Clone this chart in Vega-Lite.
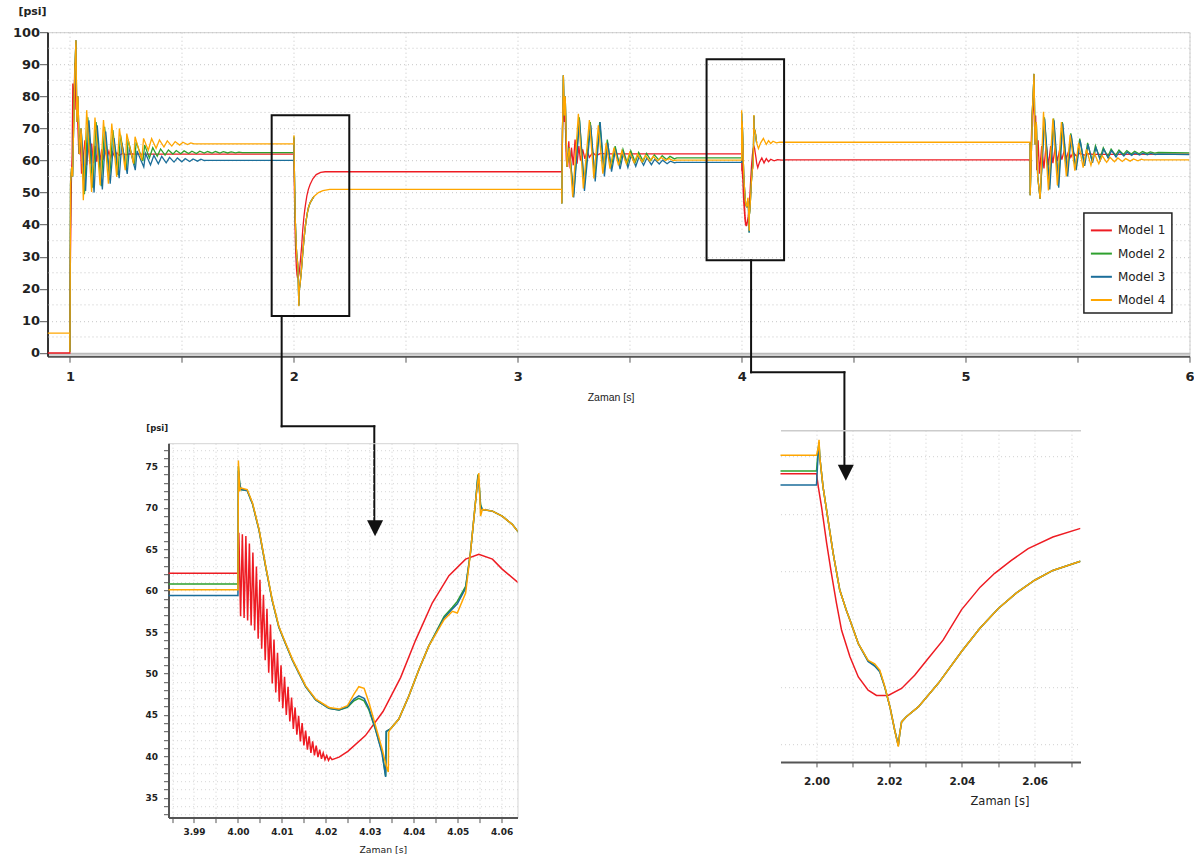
{
"$schema": "https://vega.github.io/schema/vega-lite/v6.json",
"background": "white",
"padding": {"left": 11.5, "top": 5.2, "right": 2, "bottom": 2},
"config": {
  "view": {"stroke": null},
  "font": "DejaVu Sans",
  "axis": {"labelFont": "DejaVu Sans", "titleFont": "DejaVu Sans", "labelColor": "#222", "titleColor": "#222", "titleFontWeight": "normal", "labelFontWeight": "bold", "domainColor": "#555", "tickColor": "#555", "gridColor": "#c6c6c6", "gridDash": [1, 3], "labelOverlap": false},
  "legend": {"strokeWidth": 1.5, "labelFont": "DejaVu Sans"}
},
"resolve": {"scale": {"color": "independent"}},
"bounds": "flush",
"spacing": 74,
"datasets": {"signals": [
{"m":1,"t":0.9,"p":0},{"m":1,"t":1.0,"p":0},{"m":1,"t":1.0005,"p":10.5},{"m":1,"t":1.002,"p":27},{"m":1,"t":1.004,"p":38},{"m":1,"t":1.007,"p":55},{"m":1,"t":1.01,"p":62},{"m":1,"t":1.013,"p":84},{"m":1,"t":1.018,"p":76},{"m":1,"t":1.022,"p":90.5},{"m":1,"t":1.027,"p":76},{"m":1,"t":1.033,"p":75.7},{"m":1,"t":1.04,"p":62},{"m":1,"t":1.046,"p":68},{"m":1,"t":1.052,"p":55.9},{"m":1,"t":1.06,"p":61},{"m":1,"t":1.067,"p":66.3},{"m":1,"t":1.075,"p":58.5},{"m":1,"t":1.082,"p":65.5},{"m":1,"t":1.09,"p":59},{"m":1,"t":1.097,"p":65.3},{"m":1,"t":1.105,"p":59.2},{"m":1,"t":1.112,"p":64.5},{"m":1,"t":1.12,"p":59.6},{"m":1,"t":1.127,"p":64},{"m":1,"t":1.135,"p":60},{"m":1,"t":1.142,"p":63.5},{"m":1,"t":1.15,"p":60.3},{"m":1,"t":1.158,"p":63.2},{"m":1,"t":1.166,"p":60.6},{"m":1,"t":1.174,"p":62.9},{"m":1,"t":1.182,"p":61},{"m":1,"t":1.19,"p":62.6},{"m":1,"t":1.2,"p":61.3},{"m":1,"t":1.21,"p":62.4},{"m":1,"t":1.22,"p":61.6},{"m":1,"t":1.235,"p":62.2},{"m":1,"t":1.25,"p":61.8},{"m":1,"t":1.27,"p":62.1},{"m":1,"t":1.29,"p":62},{"m":1,"t":1.985,"p":62},{"m":1,"t":2.0,"p":62},
{"m":1,"t":2.0005,"p":59.7},{"m":1,"t":2.0014,"p":56.2},{"m":1,"t":2.0028,"p":49.9},{"m":1,"t":2.0041,"p":44.7},{"m":1,"t":2.0055,"p":39.5},{"m":1,"t":2.0069,"p":34.8},{"m":1,"t":2.0092,"p":30.2},{"m":1,"t":2.0115,"p":26.7},{"m":1,"t":2.0142,"p":24.4},{"m":1,"t":2.0165,"p":23.5},{"m":1,"t":2.0197,"p":23.5},{"m":1,"t":2.0234,"p":24.7},{"m":1,"t":2.027,"p":27},{"m":1,"t":2.0307,"p":29.9},{"m":1,"t":2.0348,"p":33.1},{"m":1,"t":2.0399,"p":38.4},{"m":1,"t":2.045,"p":42.3},{"m":1,"t":2.049,"p":44.7},{"m":1,"t":2.0535,"p":46.9},{"m":1,"t":2.0582,"p":49},{"m":1,"t":2.065,"p":51},{"m":1,"t":2.0726,"p":52.5},{"m":1,"t":2.085,"p":54.3},{"m":1,"t":2.1,"p":55.6},{"m":1,"t":2.12,"p":56.3},{"m":1,"t":2.14,"p":56.5},{"m":1,"t":3.1966,"p":56.5},
{"m":1,"t":3.1975,"p":57},{"m":1,"t":3.2,"p":70},{"m":1,"t":3.2037,"p":78.3},{"m":1,"t":3.208,"p":72},{"m":1,"t":3.211,"p":76},{"m":1,"t":3.217,"p":60},{"m":1,"t":3.223,"p":58},{"m":1,"t":3.228,"p":66},{"m":1,"t":3.234,"p":57.5},{"m":1,"t":3.24,"p":64},{"m":1,"t":3.248,"p":58.5},{"m":1,"t":3.256,"p":66.5},{"m":1,"t":3.265,"p":59},{"m":1,"t":3.273,"p":64.5},{"m":1,"t":3.28,"p":60},{"m":1,"t":3.29,"p":63.5},{"m":1,"t":3.3,"p":60.5},{"m":1,"t":3.31,"p":63},{"m":1,"t":3.32,"p":61},{"m":1,"t":3.335,"p":62.5},{"m":1,"t":3.35,"p":61.5},{"m":1,"t":3.37,"p":62.2},{"m":1,"t":3.39,"p":62.1},{"m":1,"t":3.98,"p":62.1},{"m":1,"t":4.0,"p":62.1},
{"m":1,"t":4.0002,"p":67},{"m":1,"t":4.0006,"p":56.9},{"m":1,"t":4.001,"p":66.8},{"m":1,"t":4.0014,"p":56.7},{"m":1,"t":4.0018,"p":66.6},{"m":1,"t":4.0022,"p":56.4},{"m":1,"t":4.0026,"p":65.7},{"m":1,"t":4.003,"p":55.8},{"m":1,"t":4.0034,"p":64.6},{"m":1,"t":4.0038,"p":55.2},{"m":1,"t":4.0042,"p":62.9},{"m":1,"t":4.0046,"p":54.2},{"m":1,"t":4.005,"p":61.3},{"m":1,"t":4.0054,"p":53},{"m":1,"t":4.0058,"p":59.5},{"m":1,"t":4.0062,"p":51.6},{"m":1,"t":4.0066,"p":57.8},{"m":1,"t":4.007,"p":50.1},{"m":1,"t":4.0074,"p":55.9},{"m":1,"t":4.0078,"p":48.8},{"m":1,"t":4.0082,"p":54.1},{"m":1,"t":4.0086,"p":47.7},{"m":1,"t":4.009,"p":52.5},{"m":1,"t":4.0094,"p":46.6},{"m":1,"t":4.0098,"p":51},{"m":1,"t":4.0102,"p":45.8},{"m":1,"t":4.0106,"p":49.6},{"m":1,"t":4.011,"p":45},{"m":1,"t":4.0114,"p":48.4},{"m":1,"t":4.0118,"p":44.2},{"m":1,"t":4.0122,"p":47.1},{"m":1,"t":4.0126,"p":43.3},{"m":1,"t":4.013,"p":45.9},{"m":1,"t":4.0134,"p":42.6},{"m":1,"t":4.0138,"p":44.9},{"m":1,"t":4.0142,"p":41.8},{"m":1,"t":4.0146,"p":44},{"m":1,"t":4.015,"p":41.3},{"m":1,"t":4.0154,"p":43.1},{"m":1,"t":4.0158,"p":40.8},{"m":1,"t":4.0162,"p":42.4},{"m":1,"t":4.0166,"p":40.4},{"m":1,"t":4.017,"p":41.8},{"m":1,"t":4.0174,"p":40.1},{"m":1,"t":4.0178,"p":41.3},{"m":1,"t":4.0182,"p":39.9},{"m":1,"t":4.0186,"p":40.8},{"m":1,"t":4.019,"p":39.7},{"m":1,"t":4.0194,"p":40.4},{"m":1,"t":4.0198,"p":39.6},{"m":1,"t":4.0202,"p":40.1},{"m":1,"t":4.0206,"p":39.5},{"m":1,"t":4.021,"p":39.9},{"m":1,"t":4.0214,"p":39.6},
{"m":1,"t":4.023,"p":39.9},{"m":1,"t":4.025,"p":40.6},{"m":1,"t":4.029,"p":42.5},{"m":1,"t":4.033,"p":45.4},{"m":1,"t":4.037,"p":49.5},{"m":1,"t":4.0404,"p":54},{"m":1,"t":4.0442,"p":58.5},{"m":1,"t":4.048,"p":61.8},{"m":1,"t":4.0518,"p":63.8},{"m":1,"t":4.0548,"p":64.4},{"m":1,"t":4.0579,"p":63.8},{"m":1,"t":4.0601,"p":62.6},{"m":1,"t":4.0639,"p":60.9},{"m":1,"t":4.067,"p":59.2},{"m":1,"t":4.072,"p":57.8},{"m":1,"t":4.08,"p":59.5},{"m":1,"t":4.09,"p":60.8},{"m":1,"t":4.1,"p":59.2},{"m":1,"t":4.11,"p":60.6},{"m":1,"t":4.12,"p":59.6},{"m":1,"t":4.13,"p":60.4},{"m":1,"t":4.145,"p":59.9},{"m":1,"t":4.16,"p":60.3},{"m":1,"t":4.18,"p":60.1},{"m":1,"t":4.2,"p":60.2},{"m":1,"t":5.288,"p":60.2},
{"m":1,"t":5.289,"p":55},{"m":1,"t":5.295,"p":70},{"m":1,"t":5.303,"p":80.4},{"m":1,"t":5.308,"p":70.5},{"m":1,"t":5.313,"p":74},{"m":1,"t":5.318,"p":57},{"m":1,"t":5.324,"p":66.3},{"m":1,"t":5.33,"p":55.9},{"m":1,"t":5.34,"p":64.5},{"m":1,"t":5.35,"p":57.5},{"m":1,"t":5.36,"p":65},{"m":1,"t":5.37,"p":58.5},{"m":1,"t":5.38,"p":64.5},{"m":1,"t":5.39,"p":59.2},{"m":1,"t":5.4,"p":64},{"m":1,"t":5.41,"p":59.8},{"m":1,"t":5.42,"p":63.3},{"m":1,"t":5.43,"p":60.3},{"m":1,"t":5.44,"p":63},{"m":1,"t":5.45,"p":60.7},{"m":1,"t":5.46,"p":62.8},{"m":1,"t":5.47,"p":61},{"m":1,"t":5.48,"p":62.5},{"m":1,"t":5.495,"p":61.4},{"m":1,"t":5.51,"p":62.3},{"m":1,"t":5.53,"p":61.7},{"m":1,"t":5.55,"p":62.1},{"m":1,"t":5.57,"p":61.9},{"m":1,"t":6.0,"p":62},

{"m":2,"t":1.0,"p":0.3},{"m":2,"t":1.003,"p":53},{"m":2,"t":1.008,"p":58},{"m":2,"t":1.012,"p":55},{"m":2,"t":1.018,"p":75},{"m":2,"t":1.022,"p":88},{"m":2,"t":1.027,"p":97.5},{"m":2,"t":1.031,"p":72},{"m":2,"t":1.036,"p":80},{"m":2,"t":1.042,"p":62},{"m":2,"t":1.05,"p":70},{"m":2,"t":1.065,"p":49.5},{"m":2,"t":1.08,"p":73.5},{"m":2,"t":1.102,"p":51.5},{"m":2,"t":1.117,"p":72},{"m":2,"t":1.14,"p":52},{"m":2,"t":1.155,"p":70.5},{"m":2,"t":1.177,"p":54},{"m":2,"t":1.192,"p":69.5},{"m":2,"t":1.214,"p":55.5},{"m":2,"t":1.226,"p":68},{"m":2,"t":1.252,"p":57},{"m":2,"t":1.26,"p":66.5},{"m":2,"t":1.288,"p":58.5},{"m":2,"t":1.296,"p":65.8},{"m":2,"t":1.326,"p":59.8},{"m":2,"t":1.334,"p":64.8},{"m":2,"t":1.355,"p":60.8},{"m":2,"t":1.37,"p":64},{"m":2,"t":1.39,"p":61.3},{"m":2,"t":1.405,"p":63.6},{"m":2,"t":1.425,"p":61.7},{"m":2,"t":1.44,"p":63.3},{"m":2,"t":1.46,"p":62},{"m":2,"t":1.475,"p":63.1},{"m":2,"t":1.495,"p":62.1},{"m":2,"t":1.51,"p":63},{"m":2,"t":1.53,"p":62.2},{"m":2,"t":1.545,"p":62.9},{"m":2,"t":1.565,"p":62.2},{"m":2,"t":1.58,"p":62.9},{"m":2,"t":1.6,"p":62.3},{"m":2,"t":1.615,"p":62.8},{"m":2,"t":1.635,"p":62.3},{"m":2,"t":1.65,"p":62.8},{"m":2,"t":1.67,"p":62.3},{"m":2,"t":1.685,"p":62.75},{"m":2,"t":1.705,"p":62.35},{"m":2,"t":1.72,"p":62.7},{"m":2,"t":1.74,"p":62.4},{"m":2,"t":1.755,"p":62.6},{"m":2,"t":1.77,"p":62.45},{"m":2,"t":1.985,"p":62.45},{"m":2,"t":2.0,"p":62.45},
{"m":2,"t":2.0005,"p":66.5},{"m":2,"t":2.0007,"p":67.5},{"m":2,"t":2.0009,"p":64.9},{"m":2,"t":2.0018,"p":59.7},{"m":2,"t":2.0032,"p":53.9},{"m":2,"t":2.0046,"p":48.1},{"m":2,"t":2.0064,"p":41.8},{"m":2,"t":2.0082,"p":38.3},{"m":2,"t":2.0092,"p":36.6},{"m":2,"t":2.0115,"p":32.5},{"m":2,"t":2.0142,"p":29.5},{"m":2,"t":2.016,"p":28.7},{"m":2,"t":2.0174,"p":27.7},{"m":2,"t":2.0188,"p":24.9},{"m":2,"t":2.0202,"p":21.5},{"m":2,"t":2.0215,"p":17.5},{"m":2,"t":2.0225,"p":14.8},{"m":2,"t":2.0229,"p":16.9},{"m":2,"t":2.0234,"p":18.9},{"m":2,"t":2.0247,"p":19.8},{"m":2,"t":2.028,"p":21.5},{"m":2,"t":2.0335,"p":25.6},{"m":2,"t":2.04,"p":31.2},{"m":2,"t":2.045,"p":35.2},{"m":2,"t":2.05,"p":38.6},{"m":2,"t":2.055,"p":41.3},{"m":2,"t":2.06,"p":43.5},{"m":2,"t":2.065,"p":45.2},{"m":2,"t":2.0726,"p":46.8},{"m":2,"t":2.09,"p":48.8},{"m":2,"t":2.5,"p":null},
{"m":2,"t":3.1966,"p":51},{"m":2,"t":3.197,"p":46.6},{"m":2,"t":3.2,"p":70},{"m":2,"t":3.2037,"p":86.6},{"m":2,"t":3.208,"p":74},{"m":2,"t":3.212,"p":80},{"m":2,"t":3.22,"p":58},{"m":2,"t":3.23,"p":64},{"m":2,"t":3.25,"p":49.5},{"m":2,"t":3.275,"p":73.5},{"m":2,"t":3.297,"p":52},{"m":2,"t":3.324,"p":72},{"m":2,"t":3.344,"p":55},{"m":2,"t":3.366,"p":72},{"m":2,"t":3.385,"p":56.5},{"m":2,"t":3.4,"p":66.5},{"m":2,"t":3.417,"p":57.5},{"m":2,"t":3.435,"p":64.5},{"m":2,"t":3.455,"p":58.5},{"m":2,"t":3.47,"p":63.5},{"m":2,"t":3.49,"p":59},{"m":2,"t":3.505,"p":63},{"m":2,"t":3.525,"p":59.5},{"m":2,"t":3.54,"p":62.5},{"m":2,"t":3.56,"p":59.8},{"m":2,"t":3.575,"p":62.2},{"m":2,"t":3.595,"p":60},{"m":2,"t":3.61,"p":61.8},{"m":2,"t":3.63,"p":60.2},{"m":2,"t":3.645,"p":61.5},{"m":2,"t":3.665,"p":60.3},{"m":2,"t":3.68,"p":61.3},{"m":2,"t":3.7,"p":60.5},{"m":2,"t":3.71,"p":60.8},{"m":2,"t":3.98,"p":60.8},{"m":2,"t":4.0,"p":60.8},
{"m":2,"t":4.0001,"p":75},{"m":2,"t":4.0004,"p":72.9},{"m":2,"t":4.0007,"p":72.2},{"m":2,"t":4.0021,"p":72.1},{"m":2,"t":4.0033,"p":70.5},{"m":2,"t":4.0048,"p":67.3},{"m":2,"t":4.0063,"p":62.9},{"m":2,"t":4.0078,"p":58.8},{"m":2,"t":4.0093,"p":55.6},{"m":2,"t":4.0105,"p":54},{"m":2,"t":4.0124,"p":51.6},{"m":2,"t":4.0139,"p":50},{"m":2,"t":4.0154,"p":48.4},{"m":2,"t":4.0177,"p":46.8},{"m":2,"t":4.0207,"p":45.8},{"m":2,"t":4.023,"p":45.6},{"m":2,"t":4.0249,"p":45.9},{"m":2,"t":4.0264,"p":46.7},{"m":2,"t":4.0275,"p":47},{"m":2,"t":4.0287,"p":46.7},{"m":2,"t":4.0298,"p":45.6},{"m":2,"t":4.0313,"p":43.2},{"m":2,"t":4.0328,"p":40.5},{"m":2,"t":4.0336,"p":37.6},{"m":2,"t":4.0338,"p":43},{"m":2,"t":4.0347,"p":43.3},{"m":2,"t":4.0366,"p":44.5},{"m":2,"t":4.0389,"p":47.3},{"m":2,"t":4.0412,"p":50.5},{"m":2,"t":4.0434,"p":53.3},{"m":2,"t":4.0469,"p":56.9},{"m":2,"t":4.0488,"p":58},{"m":2,"t":4.0499,"p":58.7},{"m":2,"t":4.0518,"p":60.5},{"m":2,"t":4.0529,"p":64.6},{"m":2,"t":4.0541,"p":71},{"m":2,"t":4.0546,"p":74},{"m":2,"t":4.0549,"p":72.6},{"m":2,"t":4.0552,"p":70.4},{"m":2,"t":4.0556,"p":69.8},{"m":2,"t":4.0579,"p":69.6},{"m":2,"t":4.0601,"p":69},{"m":2,"t":4.0624,"p":68},{"m":2,"t":4.0639,"p":67},{"m":2,"t":4.067,"p":65.5},{"m":2,"t":4.6,"p":null},
{"m":2,"t":5.288,"p":65.7},{"m":2,"t":5.2885,"p":49.2},{"m":2,"t":5.293,"p":60},{"m":2,"t":5.298,"p":75},{"m":2,"t":5.306,"p":87},{"m":2,"t":5.31,"p":65},{"m":2,"t":5.316,"p":72},{"m":2,"t":5.322,"p":55},{"m":2,"t":5.333,"p":48.1},{"m":2,"t":5.352,"p":73.5},{"m":2,"t":5.374,"p":51.5},{"m":2,"t":5.393,"p":73.1},{"m":2,"t":5.414,"p":52},{"m":2,"t":5.432,"p":72},{"m":2,"t":5.454,"p":55.5},{"m":2,"t":5.47,"p":68.5},{"m":2,"t":5.492,"p":57.5},{"m":2,"t":5.51,"p":66.8},{"m":2,"t":5.53,"p":58.8},{"m":2,"t":5.545,"p":65.5},{"m":2,"t":5.565,"p":59.8},{"m":2,"t":5.58,"p":64.6},{"m":2,"t":5.6,"p":60.6},{"m":2,"t":5.615,"p":64},{"m":2,"t":5.635,"p":61.2},{"m":2,"t":5.65,"p":63.6},{"m":2,"t":5.67,"p":61.6},{"m":2,"t":5.685,"p":63.3},{"m":2,"t":5.705,"p":61.9},{"m":2,"t":5.72,"p":63.1},{"m":2,"t":5.74,"p":62},{"m":2,"t":5.755,"p":62.9},{"m":2,"t":5.775,"p":62.1},{"m":2,"t":5.79,"p":62.8},{"m":2,"t":5.81,"p":62.2},{"m":2,"t":5.825,"p":62.7},{"m":2,"t":5.845,"p":62.3},{"m":2,"t":5.86,"p":62.5},{"m":2,"t":6.0,"p":62.4},

{"m":3,"t":1.0,"p":0.3},{"m":3,"t":1.003,"p":53},{"m":3,"t":1.008,"p":58},{"m":3,"t":1.012,"p":55},{"m":3,"t":1.018,"p":75},{"m":3,"t":1.022,"p":88},{"m":3,"t":1.027,"p":97.5},{"m":3,"t":1.031,"p":72},{"m":3,"t":1.036,"p":80},{"m":3,"t":1.042,"p":62},{"m":3,"t":1.05,"p":70},{"m":3,"t":1.07,"p":50.5},{"m":3,"t":1.085,"p":72.5},{"m":3,"t":1.108,"p":50},{"m":3,"t":1.122,"p":71},{"m":3,"t":1.145,"p":51},{"m":3,"t":1.16,"p":69},{"m":3,"t":1.18,"p":52.8},{"m":3,"t":1.197,"p":67},{"m":3,"t":1.22,"p":54.5},{"m":3,"t":1.232,"p":65.5},{"m":3,"t":1.256,"p":55.8},{"m":3,"t":1.266,"p":64.2},{"m":3,"t":1.292,"p":57},{"m":3,"t":1.3,"p":63},{"m":3,"t":1.33,"p":58},{"m":3,"t":1.338,"p":62.2},{"m":3,"t":1.36,"p":58.6},{"m":3,"t":1.375,"p":61.6},{"m":3,"t":1.395,"p":59},{"m":3,"t":1.41,"p":61.3},{"m":3,"t":1.43,"p":59.3},{"m":3,"t":1.445,"p":61},{"m":3,"t":1.465,"p":59.5},{"m":3,"t":1.48,"p":60.8},{"m":3,"t":1.5,"p":59.6},{"m":3,"t":1.515,"p":60.6},{"m":3,"t":1.535,"p":59.7},{"m":3,"t":1.55,"p":60.5},{"m":3,"t":1.57,"p":59.8},{"m":3,"t":1.585,"p":60.4},{"m":3,"t":1.6,"p":60},{"m":3,"t":1.61,"p":60.05},{"m":3,"t":1.985,"p":60.05},{"m":3,"t":2.0,"p":60.05},
{"m":3,"t":2.0005,"p":66},{"m":3,"t":2.0007,"p":67},{"m":3,"t":2.0009,"p":64.9},{"m":3,"t":2.0018,"p":59.7},{"m":3,"t":2.0032,"p":53.9},{"m":3,"t":2.0046,"p":48.1},{"m":3,"t":2.0064,"p":41.8},{"m":3,"t":2.0082,"p":38.3},{"m":3,"t":2.0092,"p":36.6},{"m":3,"t":2.0115,"p":32.5},{"m":3,"t":2.0142,"p":29.4},{"m":3,"t":2.016,"p":28.6},{"m":3,"t":2.0174,"p":27.6},{"m":3,"t":2.0188,"p":24.9},{"m":3,"t":2.0202,"p":21.5},{"m":3,"t":2.0215,"p":17.5},{"m":3,"t":2.0225,"p":14.8},{"m":3,"t":2.0229,"p":16.9},{"m":3,"t":2.0234,"p":18.9},{"m":3,"t":2.0247,"p":19.8},{"m":3,"t":2.028,"p":21.5},{"m":3,"t":2.0335,"p":25.6},{"m":3,"t":2.04,"p":31.2},{"m":3,"t":2.045,"p":35.2},{"m":3,"t":2.05,"p":38.6},{"m":3,"t":2.055,"p":41.3},{"m":3,"t":2.06,"p":43.5},{"m":3,"t":2.065,"p":45.2},{"m":3,"t":2.0726,"p":46.8},{"m":3,"t":2.09,"p":48.8},{"m":3,"t":2.5,"p":null},
{"m":3,"t":3.1966,"p":51},{"m":3,"t":3.197,"p":46.6},{"m":3,"t":3.2,"p":70},{"m":3,"t":3.2037,"p":86.6},{"m":3,"t":3.208,"p":74},{"m":3,"t":3.212,"p":80},{"m":3,"t":3.22,"p":58},{"m":3,"t":3.23,"p":64},{"m":3,"t":3.25,"p":48.5},{"m":3,"t":3.276,"p":72.5},{"m":3,"t":3.298,"p":50.5},{"m":3,"t":3.326,"p":71},{"m":3,"t":3.346,"p":53.5},{"m":3,"t":3.368,"p":72},{"m":3,"t":3.387,"p":55},{"m":3,"t":3.402,"p":65.5},{"m":3,"t":3.419,"p":56.5},{"m":3,"t":3.437,"p":63.5},{"m":3,"t":3.457,"p":57.3},{"m":3,"t":3.472,"p":62.3},{"m":3,"t":3.492,"p":57.8},{"m":3,"t":3.507,"p":61.7},{"m":3,"t":3.527,"p":58.2},{"m":3,"t":3.542,"p":61.2},{"m":3,"t":3.562,"p":58.5},{"m":3,"t":3.577,"p":60.8},{"m":3,"t":3.597,"p":58.7},{"m":3,"t":3.612,"p":60.4},{"m":3,"t":3.632,"p":58.9},{"m":3,"t":3.647,"p":60.1},{"m":3,"t":3.667,"p":59},{"m":3,"t":3.682,"p":59.8},{"m":3,"t":3.7,"p":59.3},{"m":3,"t":3.71,"p":59.4},{"m":3,"t":3.98,"p":59.4},{"m":3,"t":4.0,"p":59.4},
{"m":3,"t":4.0001,"p":74.5},{"m":3,"t":4.0004,"p":72.9},{"m":3,"t":4.0007,"p":72.2},{"m":3,"t":4.0021,"p":72.1},{"m":3,"t":4.0033,"p":70.5},{"m":3,"t":4.0048,"p":67.3},{"m":3,"t":4.0063,"p":62.9},{"m":3,"t":4.0078,"p":58.8},{"m":3,"t":4.0093,"p":55.6},{"m":3,"t":4.0105,"p":54},{"m":3,"t":4.0124,"p":51.6},{"m":3,"t":4.0139,"p":50},{"m":3,"t":4.0154,"p":48.4},{"m":3,"t":4.0177,"p":46.8},{"m":3,"t":4.0207,"p":45.8},{"m":3,"t":4.023,"p":45.6},{"m":3,"t":4.0249,"p":46},{"m":3,"t":4.0264,"p":46.9},{"m":3,"t":4.0275,"p":47.3},{"m":3,"t":4.0287,"p":47},{"m":3,"t":4.0298,"p":45.8},{"m":3,"t":4.0313,"p":43.3},{"m":3,"t":4.0328,"p":40.3},{"m":3,"t":4.0336,"p":37.5},{"m":3,"t":4.0337,"p":43},{"m":3,"t":4.0347,"p":43.3},{"m":3,"t":4.0366,"p":44.5},{"m":3,"t":4.0389,"p":47.3},{"m":3,"t":4.0412,"p":50.5},{"m":3,"t":4.0434,"p":53.3},{"m":3,"t":4.0469,"p":56.7},{"m":3,"t":4.0488,"p":57.8},{"m":3,"t":4.0499,"p":58.4},{"m":3,"t":4.0518,"p":60.3},{"m":3,"t":4.0529,"p":64.6},{"m":3,"t":4.0541,"p":71},{"m":3,"t":4.0546,"p":73.8},{"m":3,"t":4.0549,"p":72.4},{"m":3,"t":4.0552,"p":70.2},{"m":3,"t":4.0556,"p":69.8},{"m":3,"t":4.0579,"p":69.6},{"m":3,"t":4.0601,"p":69},{"m":3,"t":4.0624,"p":68},{"m":3,"t":4.0639,"p":67},{"m":3,"t":4.067,"p":65.5},{"m":3,"t":4.6,"p":null},
{"m":3,"t":5.288,"p":65.7},{"m":3,"t":5.2885,"p":49.2},{"m":3,"t":5.293,"p":60},{"m":3,"t":5.298,"p":75},{"m":3,"t":5.306,"p":87},{"m":3,"t":5.31,"p":65},{"m":3,"t":5.316,"p":72},{"m":3,"t":5.322,"p":55},{"m":3,"t":5.333,"p":48.1},{"m":3,"t":5.353,"p":73},{"m":3,"t":5.376,"p":51},{"m":3,"t":5.395,"p":72.5},{"m":3,"t":5.416,"p":51.5},{"m":3,"t":5.434,"p":71.5},{"m":3,"t":5.456,"p":55},{"m":3,"t":5.472,"p":68},{"m":3,"t":5.494,"p":57},{"m":3,"t":5.512,"p":66.2},{"m":3,"t":5.532,"p":58.3},{"m":3,"t":5.547,"p":65},{"m":3,"t":5.567,"p":59.3},{"m":3,"t":5.582,"p":64},{"m":3,"t":5.602,"p":60.1},{"m":3,"t":5.617,"p":63.5},{"m":3,"t":5.637,"p":60.7},{"m":3,"t":5.652,"p":63.1},{"m":3,"t":5.672,"p":61.1},{"m":3,"t":5.687,"p":62.8},{"m":3,"t":5.707,"p":61.4},{"m":3,"t":5.722,"p":62.6},{"m":3,"t":5.742,"p":61.6},{"m":3,"t":5.757,"p":62.4},{"m":3,"t":5.777,"p":61.7},{"m":3,"t":5.792,"p":62.3},{"m":3,"t":5.812,"p":61.8},{"m":3,"t":5.827,"p":62.2},{"m":3,"t":5.847,"p":61.85},{"m":3,"t":5.86,"p":62},{"m":3,"t":6.0,"p":61.85},

{"m":4,"t":0.9,"p":6.2},{"m":4,"t":0.9995,"p":6.2},{"m":4,"t":1.0,"p":0.3},{"m":4,"t":1.003,"p":53},{"m":4,"t":1.008,"p":58},{"m":4,"t":1.012,"p":55},{"m":4,"t":1.018,"p":75},{"m":4,"t":1.022,"p":88},{"m":4,"t":1.027,"p":97.5},{"m":4,"t":1.031,"p":72},{"m":4,"t":1.036,"p":80},{"m":4,"t":1.042,"p":62},{"m":4,"t":1.05,"p":70},{"m":4,"t":1.06,"p":47.6},{"m":4,"t":1.075,"p":75.7},{"m":4,"t":1.097,"p":50.2},{"m":4,"t":1.112,"p":73.4},{"m":4,"t":1.135,"p":52.3},{"m":4,"t":1.15,"p":72.6},{"m":4,"t":1.172,"p":52.8},{"m":4,"t":1.187,"p":71.5},{"m":4,"t":1.209,"p":54.9},{"m":4,"t":1.221,"p":70},{"m":4,"t":1.247,"p":57},{"m":4,"t":1.254,"p":68.4},{"m":4,"t":1.284,"p":59},{"m":4,"t":1.291,"p":67.4},{"m":4,"t":1.321,"p":60.1},{"m":4,"t":1.329,"p":66.9},{"m":4,"t":1.35,"p":63.2},{"m":4,"t":1.365,"p":66.8},{"m":4,"t":1.385,"p":63.8},{"m":4,"t":1.4,"p":66.4},{"m":4,"t":1.42,"p":64.2},{"m":4,"t":1.435,"p":66.1},{"m":4,"t":1.455,"p":64.5},{"m":4,"t":1.47,"p":65.9},{"m":4,"t":1.49,"p":64.8},{"m":4,"t":1.505,"p":65.7},{"m":4,"t":1.525,"p":65},{"m":4,"t":1.54,"p":65.5},{"m":4,"t":1.555,"p":65.2},{"m":4,"t":1.985,"p":65.2},{"m":4,"t":2.0,"p":65.2},
{"m":4,"t":2.0005,"p":66.5},{"m":4,"t":2.0007,"p":67.9},{"m":4,"t":2.0009,"p":64.9},{"m":4,"t":2.0018,"p":59.7},{"m":4,"t":2.0032,"p":53.9},{"m":4,"t":2.0046,"p":48.1},{"m":4,"t":2.0064,"p":41.8},{"m":4,"t":2.0082,"p":38.3},{"m":4,"t":2.0092,"p":36.6},{"m":4,"t":2.0115,"p":32.5},{"m":4,"t":2.0142,"p":29.6},{"m":4,"t":2.016,"p":29},{"m":4,"t":2.0174,"p":27.9},{"m":4,"t":2.0188,"p":25},{"m":4,"t":2.0202,"p":21.5},{"m":4,"t":2.0215,"p":17.5},{"m":4,"t":2.0225,"p":14.6},{"m":4,"t":2.0229,"p":16.9},{"m":4,"t":2.0234,"p":18.9},{"m":4,"t":2.0247,"p":19.8},{"m":4,"t":2.028,"p":21.5},{"m":4,"t":2.0335,"p":25.6},{"m":4,"t":2.04,"p":31.2},{"m":4,"t":2.045,"p":35.2},{"m":4,"t":2.05,"p":38.6},{"m":4,"t":2.055,"p":41.3},{"m":4,"t":2.06,"p":43.5},{"m":4,"t":2.065,"p":45.2},{"m":4,"t":2.0726,"p":46.8},{"m":4,"t":2.09,"p":48.8},{"m":4,"t":2.11,"p":50},{"m":4,"t":2.13,"p":50.6},{"m":4,"t":2.16,"p":51},{"m":4,"t":3.1966,"p":51},
{"m":4,"t":3.197,"p":46.6},{"m":4,"t":3.2,"p":70},{"m":4,"t":3.2037,"p":86.6},{"m":4,"t":3.208,"p":74},{"m":4,"t":3.212,"p":80},{"m":4,"t":3.22,"p":58},{"m":4,"t":3.23,"p":64},{"m":4,"t":3.2456,"p":48.6},{"m":4,"t":3.2708,"p":74.6},{"m":4,"t":3.293,"p":51.3},{"m":4,"t":3.3199,"p":72.6},{"m":4,"t":3.34,"p":54.4},{"m":4,"t":3.36,"p":71},{"m":4,"t":3.38,"p":55.9},{"m":4,"t":3.395,"p":65.5},{"m":4,"t":3.412,"p":57.5},{"m":4,"t":3.43,"p":64},{"m":4,"t":3.45,"p":58.5},{"m":4,"t":3.465,"p":63},{"m":4,"t":3.485,"p":59},{"m":4,"t":3.5,"p":62.5},{"m":4,"t":3.52,"p":59.3},{"m":4,"t":3.535,"p":62},{"m":4,"t":3.555,"p":59.6},{"m":4,"t":3.57,"p":61.6},{"m":4,"t":3.59,"p":59.8},{"m":4,"t":3.605,"p":61.3},{"m":4,"t":3.625,"p":59.9},{"m":4,"t":3.64,"p":61},{"m":4,"t":3.66,"p":60},{"m":4,"t":3.675,"p":60.6},{"m":4,"t":3.695,"p":60},{"m":4,"t":3.71,"p":60.1},{"m":4,"t":3.98,"p":60.1},{"m":4,"t":4.0,"p":60.1},
{"m":4,"t":4.0001,"p":75.7},{"m":4,"t":4.0004,"p":72},{"m":4,"t":4.0006,"p":72.4},{"m":4,"t":4.0021,"p":72.2},{"m":4,"t":4.0033,"p":70.6},{"m":4,"t":4.0048,"p":67.4},{"m":4,"t":4.0063,"p":63},{"m":4,"t":4.0078,"p":58.9},{"m":4,"t":4.0093,"p":55.7},{"m":4,"t":4.0105,"p":54.1},{"m":4,"t":4.0124,"p":51.7},{"m":4,"t":4.0139,"p":50.1},{"m":4,"t":4.0154,"p":48.5},{"m":4,"t":4.0177,"p":46.9},{"m":4,"t":4.0207,"p":45.9},{"m":4,"t":4.023,"p":45.7},{"m":4,"t":4.0249,"p":46.1},{"m":4,"t":4.0264,"p":47.5},{"m":4,"t":4.0275,"p":48.4},{"m":4,"t":4.0287,"p":48.2},{"m":4,"t":4.0298,"p":46.5},{"m":4,"t":4.0313,"p":43.7},{"m":4,"t":4.0328,"p":40.9},{"m":4,"t":4.0337,"p":38.9},{"m":4,"t":4.0342,"p":38.1},{"m":4,"t":4.0343,"p":42.9},{"m":4,"t":4.0347,"p":43.3},{"m":4,"t":4.0366,"p":44.5},{"m":4,"t":4.0389,"p":47.3},{"m":4,"t":4.0412,"p":50.5},{"m":4,"t":4.0434,"p":53.3},{"m":4,"t":4.0469,"p":56.5},{"m":4,"t":4.0488,"p":57.5},{"m":4,"t":4.0499,"p":57.3},{"m":4,"t":4.0518,"p":59.7},{"m":4,"t":4.0529,"p":64.6},{"m":4,"t":4.0541,"p":71},{"m":4,"t":4.0548,"p":74.2},{"m":4,"t":4.0552,"p":69},{"m":4,"t":4.0556,"p":69.8},{"m":4,"t":4.0579,"p":69.6},{"m":4,"t":4.0601,"p":69},{"m":4,"t":4.0624,"p":68},{"m":4,"t":4.0639,"p":67},{"m":4,"t":4.067,"p":65.5},{"m":4,"t":4.075,"p":63.7},{"m":4,"t":4.085,"p":65.5},{"m":4,"t":4.097,"p":66.9},{"m":4,"t":4.11,"p":65},{"m":4,"t":4.12,"p":66.2},{"m":4,"t":4.13,"p":65.3},{"m":4,"t":4.14,"p":66},{"m":4,"t":4.155,"p":65.5},{"m":4,"t":4.17,"p":65.7},{"m":4,"t":5.288,"p":65.7},
{"m":4,"t":5.2885,"p":49.2},{"m":4,"t":5.293,"p":60},{"m":4,"t":5.298,"p":75},{"m":4,"t":5.306,"p":87},{"m":4,"t":5.31,"p":65},{"m":4,"t":5.316,"p":72},{"m":4,"t":5.322,"p":55},{"m":4,"t":5.333,"p":48.1},{"m":4,"t":5.348,"p":75.2},{"m":4,"t":5.37,"p":50.7},{"m":4,"t":5.39,"p":73.1},{"m":4,"t":5.41,"p":52.3},{"m":4,"t":5.428,"p":72},{"m":4,"t":5.45,"p":55},{"m":4,"t":5.467,"p":68},{"m":4,"t":5.488,"p":56.8},{"m":4,"t":5.505,"p":65.5},{"m":4,"t":5.525,"p":57.8},{"m":4,"t":5.54,"p":63.5},{"m":4,"t":5.56,"p":58.5},{"m":4,"t":5.575,"p":62.3},{"m":4,"t":5.595,"p":59},{"m":4,"t":5.61,"p":61.5},{"m":4,"t":5.63,"p":59.4},{"m":4,"t":5.645,"p":61},{"m":4,"t":5.665,"p":59.6},{"m":4,"t":5.68,"p":60.8},{"m":4,"t":5.7,"p":59.7},{"m":4,"t":5.715,"p":60.6},{"m":4,"t":5.735,"p":59.8},{"m":4,"t":5.75,"p":60.5},{"m":4,"t":5.77,"p":59.9},{"m":4,"t":5.785,"p":60.4},{"m":4,"t":5.795,"p":60.2},{"m":4,"t":6.0,"p":60.2}
]},
"vconcat": [
{
  "width": 1142,
  "height": 324,
  "view": {"stroke": "#cfcfcf"},
  "resolve": {"axis": {"y": "independent"}},
  "layer": [
    {
      "data": {"values": [{"g": 5}, {"g": 15}, {"g": 25}, {"g": 35}, {"g": 45}, {"g": 55}, {"g": 65}, {"g": 75}, {"g": 85}, {"g": 95}]},
      "mark": {"type": "rule", "color": "#c6c6c6", "strokeWidth": 1, "strokeDash": [1, 3]},
      "encoding": {"y": {"field": "g", "type": "quantitative", "axis": null}}
    },
    {
      "data": {"name": "signals"},
      "mark": {"type": "line", "strokeWidth": 1.3, "clip": true, "invalid": "break-paths-filter-domains"},
      "encoding": {
        "x": {"field": "t", "type": "quantitative", "title": "Zaman [s]", "scale": {"domain": [0.9, 6], "nice": false, "zero": false},
              "axis": {"title": "Zaman [s]", "values": [1, 1.5, 2, 2.5, 3, 3.5, 4, 4.5, 5, 5.5, 6], "labelExpr": "datum.value % 1 === 0 ? format(datum.value, 'd') : ''", "labelOverlap": false, "tickSize": 6, "labelPadding": 8, "labelFontSize": 13, "titleFont": "Liberation Sans", "titleFontSize": 10.5, "titleX": 563, "titleY": 41, "titleBaseline": "middle", "grid": true, "domainWidth": 2, "domainColor": "#555", "labelFlush": false}},
        "y": {"field": "p", "type": "quantitative", "title": "[psi]", "scale": {"domain": [-1, 100], "nice": false, "zero": false},
              "axis": {"orient": "left", "title": "[psi]", "titleAngle": 0, "titleAlign": "left", "titleBaseline": "middle", "titleX": -29.6, "titleY": -20.3, "titleFontWeight": "bold", "titleFontSize": 11,
                       "values": [0, 10, 20, 30, 40, 50, 60, 70, 80, 90, 100], "format": "d", "labelOverlap": false,
                       "tickSize": 8, "labelPadding": 0, "labelFontSize": 13, "grid": true, "domainWidth": 2, "domainColor": "#333",
                       "gridDash": {"condition": {"test": "datum.value === 0", "value": []}, "value": [1, 3]},
                       "gridColor": {"condition": {"test": "datum.value === 0", "value": "#bbbbbb"}, "value": "#c6c6c6"},
                       "gridWidth": {"condition": {"test": "datum.value === 0", "value": 2}, "value": 1}}},
        "color": {"field": "m", "type": "nominal", "scale": {"domain": [1, 2, 3, 4], "range": ["#ee1c23", "#2ea02e", "#1b6e9a", "#ffa600"]},
                  "legend": {"orient": "none", "legendX": 1036.4, "legendY": 180.7, "title": null, "labelExpr": "'Model ' + datum.label", "symbolType": "stroke", "symbolStrokeWidth": 2, "symbolSize": 441, "labelFontSize": 12, "labelColor": "#222", "labelOffset": 5, "strokeColor": "#222", "fillColor": "white", "padding": 6, "rowPadding": 5.2}}
      }
    },
    {
      "data": {"values": [{"t1": 1.9011, "t2": 2.2477, "p1": 11.54, "p2": 74.1}, {"t1": 3.8433, "t2": 4.1895, "p1": 28.9, "p2": 91.58}]},
      "mark": {"type": "rect", "fillOpacity": 0, "stroke": "#111", "strokeWidth": 2},
      "encoding": {"x": {"field": "t1", "type": "quantitative", "title": "Zaman [s]"}, "x2": {"field": "t2"}, "y": {"field": "p1", "type": "quantitative", "axis": null}, "y2": {"field": "p2"}}
    },
    {
      "data": {"values": [
        {"t1": 1.9457, "p1": 11.54, "t2": 1.9457, "p2": -22.86},
        {"t1": 1.9457, "p1": -22.86, "t2": 2.3594, "p2": -22.86},
        {"t1": 2.3594, "p1": -22.86, "t2": 2.3594, "p2": -52.3},
        {"t1": 4.0421, "p1": 28.9, "t2": 4.0421, "p2": -6.02},
        {"t1": 4.0421, "p1": -6.02, "t2": 4.4589, "p2": -6.02},
        {"t1": 4.4589, "p1": -6.02, "t2": 4.4589, "p2": -35}
      ]},
      "mark": {"type": "rule", "stroke": "#111", "strokeWidth": 2, "strokeCap": "square"},
      "encoding": {"x": {"field": "t1", "type": "quantitative", "title": "Zaman [s]"}, "x2": {"field": "t2"}, "y": {"field": "p1", "type": "quantitative", "axis": null}, "y2": {"field": "p2"}}
    }
  ]
},
{
  "spacing": 0,
  "bounds": "flush",
  "hconcat": [
    {"width": 120.1, "height": 1, "data": {"values": [{}]}, "mark": {"type": "point", "opacity": 0}, "encoding": {}},
    {
      "spacing": 0,
      "bounds": "flush",
      "vconcat": [
        {"width": 1, "height": 13, "data": {"values": [{}]}, "mark": {"type": "point", "opacity": 0}, "encoding": {}},
        {
          "width": 349,
          "height": 374.4,
          "view": {"stroke": "#d4d4d4"},
          "resolve": {"axis": {"x": "independent", "y": "independent"}},
          "layer": [
            {
              "data": {"name": "signals"},
              "transform": [{"filter": "datum.t >= 3.97 && datum.t <= 4.07"}],
              "mark": {"type": "line", "strokeWidth": 1.5, "clip": true, "invalid": "break-paths-filter-domains"},
              "encoding": {
                "x": {"field": "t", "type": "quantitative", "title": "Zaman [s]", "scale": {"domain": [3.9842, 4.0636], "nice": false, "zero": false},
                      "axis": {"title": "Zaman [s]", "values": [3.985, 3.99, 3.995, 4.0, 4.005, 4.01, 4.015, 4.02, 4.025, 4.03, 4.035, 4.04, 4.045, 4.05, 4.055, 4.06],
                               "labelExpr": "round(datum.value*1000) % 10 === 0 ? format(datum.value, '.2f') : ''", "labelOverlap": false,
                               "tickSize": 5, "labelPadding": 5, "labelFontSize": 9, "titleFontSize": 9.3, "titleX": 214.3, "titleY": 32.3, "titleBaseline": "middle", "grid": true, "gridColor": "#d0d0d0", "domainWidth": 2, "labelFlush": false}},
                "y": {"field": "p", "type": "quantitative", "title": "[psi]", "scale": {"domain": [32.6, 77.8], "nice": false, "zero": false},
                      "axis": {"title": "[psi]", "titleAngle": 0, "titleAlign": "left", "titleBaseline": "middle", "titleX": -22.7, "titleY": -16, "titleFontWeight": "bold", "titleFontSize": 8.5,
                               "values": [33, 34, 35, 36, 37, 38, 39, 40, 41, 42, 43, 44, 45, 46, 47, 48, 49, 50, 51, 52, 53, 54, 55, 56, 57, 58, 59, 60, 61, 62, 63, 64, 65, 66, 67, 68, 69, 70, 71, 72, 73, 74, 75, 76, 77],
                               "labelExpr": "datum.value % 5 === 0 ? format(datum.value, 'd') : ''", "labelOverlap": false, "tickSize": 5, "labelPadding": 6, "labelFontSize": 9, "grid": true, "gridColor": "#d6d6d6", "domainWidth": 2}},
                "color": {"field": "m", "type": "nominal", "scale": {"domain": [1, 2, 3, 4], "range": ["#ee1c23", "#2ea02e", "#1b6e9a", "#ffa600"]}, "legend": null}
              }
            },
            {
              "data": {"values": [{"t": 4.0312, "p": 67.54}]},
              "mark": {"type": "point", "shape": "M-1,-1L1,-1L0,1Z", "size": 256, "filled": true, "color": "#111", "opacity": 1},
              "encoding": {"x": {"field": "t", "type": "quantitative", "axis": null}, "y": {"field": "p", "type": "quantitative", "axis": null}}
            }
          ]
        }
      ]
    },
    {"width": 611.3, "height": 1, "data": {"values": [{}]}, "mark": {"type": "point", "opacity": 0}, "encoding": {}},
    {
      "width": 300,
      "height": 331.7,
      "resolve": {"axis": {"x": "independent"}},
      "layer": [
        {
          "data": {"name": "signals"},
          "transform": [{"filter": "datum.t >= 1.98 && datum.t <= 2.08"}],
          "mark": {"type": "line", "strokeWidth": 1.5, "clip": true, "invalid": "break-paths-filter-domains"},
          "encoding": {
            "x": {"field": "t", "type": "quantitative", "scale": {"domain": [1.9901, 2.0726], "nice": false, "zero": false},
                  "axis": {"title": "Zaman [s]", "values": [2.0, 2.01, 2.02, 2.03, 2.04, 2.05, 2.06, 2.07],
                           "labelExpr": "round(datum.value*100) % 2 === 0 ? format(datum.value, '.2f') : ''", "labelOverlap": false,
                           "tickSize": 5, "labelPadding": 9.5, "labelFontSize": 10.5, "titleFontSize": 11.5, "titleX": 219, "titleY": 40, "titleBaseline": "middle", "grid": true, "gridColor": "#cfcfcf", "domainWidth": 2, "labelFlush": false}},
            "y": {"field": "p", "type": "quantitative", "title": null, "scale": {"domain": [11.96, 69.55], "nice": false, "zero": false},
                  "axis": {"title": null, "values": [15, 20, 25, 30, 35, 40, 45, 50, 55, 60, 65], "labels": false, "ticks": false, "domain": false, "grid": true, "gridColor": "#cfcfcf"}},
            "color": {"field": "m", "type": "nominal", "scale": {"domain": [1, 2, 3, 4], "range": ["#ee1c23", "#2ea02e", "#1b6e9a", "#ffa600"]}, "legend": null}
          }
        },
        {
          "mark": {"type": "rule", "opacity": 0},
          "encoding": {"x": {"datum": 2.0, "type": "quantitative", "axis": {"orient": "top", "labels": false, "ticks": false, "grid": false, "title": null, "domainColor": "#cccccc", "domainWidth": 1.5}}}
        },
        {
          "data": {"values": [{"t": 2.00806, "p": 62.17}]},
          "mark": {"type": "point", "shape": "M-1,-1L1,-1L0,1Z", "size": 256, "filled": true, "color": "#111", "opacity": 1},
          "encoding": {"x": {"field": "t", "type": "quantitative", "axis": null}, "y": {"field": "p", "type": "quantitative", "title": null}}
        }
      ]
    }
  ]
}
]
}
